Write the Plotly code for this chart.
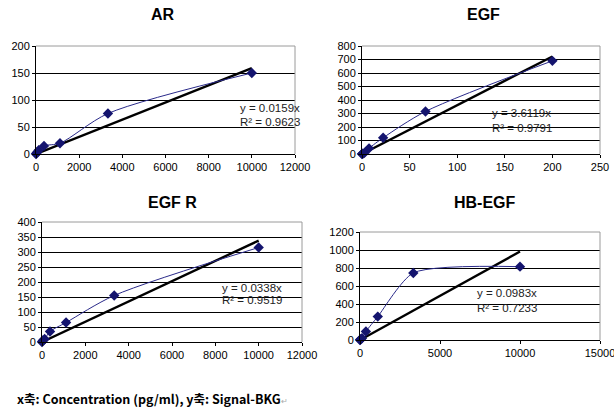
import plotly.graph_objects as go

# ---- data ----
titles = ["AR", "EGF", "EGF R", "HB-EGF"]

ar_x = [0, 14, 41, 123, 370, 1111, 3333, 10000]
ar_y = [0, 1, 3, 7, 15, 20, 75, 150]
ar_slope = 0.0159
ar_r2 = 0.9623

egf_x = [0, 0.27, 0.82, 2.5, 7.4, 22.2, 66.7, 200]
egf_y = [0, 1, 2, 8, 42, 120, 315, 690]
egf_slope = 3.6119
egf_r2 = 0.9791

egfr_x = [0, 14, 41, 123, 370, 1111, 3333, 10000]
egfr_y = [0, 2, 5, 10, 35, 65, 155, 315]
egfr_slope = 0.0338
egfr_r2 = 0.9519

hb_x = [0, 14, 41, 123, 370, 1111, 3333, 10000]
hb_y = [0, 3, 8, 20, 95, 260, 745, 815]
hb_slope = 0.0983
hb_r2 = 0.7233

footer = "x축: Concentration (pg/ml), y축: Signal-BKG"

W, H = 614, 411

panels = [
    dict(x=ar_x, y=ar_y, s=ar_slope, r2=ar_r2, xr=[0, 12000], xd=2000, yr=[0, 200], yd=50,
         px=(36, 295), py=(46, 154), eq=(9360, 85, 59), title=(163, 15), sm=0.8),
    dict(x=egf_x, y=egf_y, s=egf_slope, r2=egf_r2, xr=[0, 250], xd=50, yr=[0, 800], yd=100,
         px=(362, 600), py=(46, 154), eq=(134, 304, 193), title=(483, 15), sm=0.8),
    dict(x=egfr_x, y=egfr_y, s=egfr_slope, r2=egfr_r2, xr=[0, 12000], xd=2000, yr=[0, 400], yd=50,
         px=(42, 302), py=(222, 342), eq=(8215, 180, 140), title=(172, 202), sm=0.8),
    dict(x=hb_x, y=hb_y, s=hb_slope, r2=hb_r2, xr=[0, 15000], xd=5000, yr=[0, 1200], yd=200,
         px=(360, 600), py=(232, 340), eq=(7190, 522, 356), title=(485, 203), sm=0.65),
]

fig = go.Figure()
layout = dict(
    width=W, height=H, margin=dict(l=0, r=0, t=0, b=0, autoexpand=False),
    paper_bgcolor="white", plot_bgcolor="white", showlegend=False,
    font=dict(family="Liberation Sans, Arial", size=11, color="black"),
)
annotations = []
shapes = []
tickfont = dict(family="Liberation Sans, Arial", size=11, color="black")

for i, p in enumerate(panels, start=1):
    xa = "xaxis" if i == 1 else f"xaxis{i}"
    ya = "yaxis" if i == 1 else f"yaxis{i}"
    xr_ = "x" if i == 1 else f"x{i}"
    yr_ = "y" if i == 1 else f"y{i}"
    layout[xa] = dict(
        domain=[p["px"][0] / W, p["px"][1] / W], anchor=yr_, range=p["xr"], dtick=p["xd"],
        tick0=0, tickformat="d", showgrid=False, zeroline=False, showline=True, linecolor="black",
        linewidth=1, ticks="outside", ticklen=3, tickcolor="black", tickfont=tickfont, fixedrange=True,
        automargin=False, ticklabeloverflow="allow",
    )
    layout[ya] = dict(
        domain=[1 - p["py"][1] / H, 1 - p["py"][0] / H], anchor=xr_, range=p["yr"], dtick=p["yd"],
        tick0=0, tickformat="d", showgrid=True, gridcolor="black", gridwidth=1, zeroline=False,
        showline=True, linecolor="black", linewidth=1, ticks="outside", ticklen=3, tickcolor="black",
        tickfont=tickfont, fixedrange=True, automargin=False, ticklabeloverflow="allow",
    )
    xmax = max(p["x"])
    tx = [0, xmax]
    ty = [p["s"] * v for v in tx]
    fig.add_trace(go.Scatter(x=tx, y=ty, mode="lines", line=dict(color="black", width=2.4),
                             xaxis=xr_, yaxis=yr_, hoverinfo="skip", cliponaxis=False))
    fig.add_trace(go.Scatter(x=p["x"], y=p["y"], mode="lines+markers",
                             line=dict(color="#2a2a8a", width=1, shape="spline", smoothing=p["sm"]),
                             marker=dict(symbol="diamond", size=8, color="#14146e"),
                             xaxis=xr_, yaxis=yr_, cliponaxis=False))
    shapes.append(dict(type="line", xref=f"{xr_} domain", yref=f"{yr_} domain", x0=0, x1=1, y0=1, y1=1,
                       line=dict(color="#9a9a9a", width=1), layer="above"))
    shapes.append(dict(type="line", xref=f"{xr_} domain", yref=f"{yr_} domain", x0=1, x1=1, y0=0, y1=1,
                       line=dict(color="#9a9a9a", width=1), layer="above"))
    ex, ey1, ey2 = p["eq"]
    annotations.append(dict(x=ex, y=ey1, xref=xr_, yref=yr_, text=f"y = {p['s']}x", showarrow=False,
                            xanchor="left", yanchor="middle", font=dict(size=11.5, color="#222222")))
    annotations.append(dict(x=ex, y=ey2, xref=xr_, yref=yr_, text=f"R² = {p['r2']}", showarrow=False,
                            xanchor="left", yanchor="middle", font=dict(size=11.5, color="#222222")))
    annotations.append(dict(x=p["title"][0] / W, y=1 - p["title"][1] / H, xref="paper", yref="paper",
                            text=f"<b>{titles[i-1]}</b>", showarrow=False, xanchor="center", yanchor="middle",
                            font=dict(family="Liberation Sans, Arial", size=16, color="black")))

annotations.append(dict(x=15 / W, y=1 - 398 / H, xref="paper", yref="paper",
                        text=f"<b>{footer}</b><span style='color:#aaaaaa;font-size:8px'>↵</span>",
                        showarrow=False, xanchor="left", yanchor="middle",
                        font=dict(family="Noto Sans CJK KR", size=12.5, color="black")))

layout["annotations"] = annotations
layout["shapes"] = shapes
fig.update_layout(**layout)
fig.write_html("out.html")
